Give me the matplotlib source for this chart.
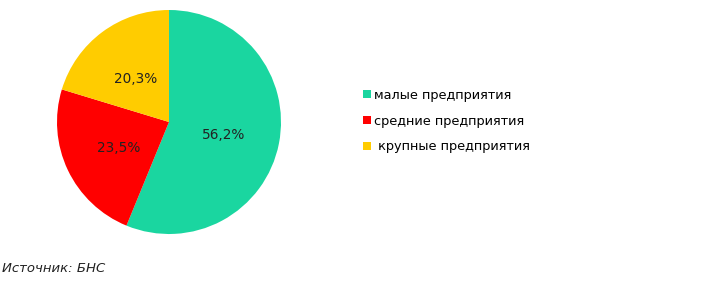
import numpy as np
import matplotlib.pyplot as plt
from matplotlib.patches import Patch

labels = ['малые предприятия', 'средние предприятия', ' крупные предприятия']
shares = [56.2, 23.5, 20.3]
colors = ['#1ad6a0', '#ff0000', '#ffcc00']
pct_labels = ['56,2%', '23,5%', '20,3%']

W, H = 709, 286
fig = plt.figure(figsize=(W / 100, H / 100), dpi=100)

# pie axes placed around centre (169, 122) px, radius 112 px
cx, cy, r = 169, 122, 112
ax = fig.add_axes([(cx - r) / W, (H - cy - r) / H, 2 * r / W, 2 * r / H])
wedges, _ = ax.pie(shares, colors=colors, startangle=90, counterclock=False,
                   wedgeprops=dict(linewidth=0))
ax.set_aspect('equal')
ax.set_xlim(-1, 1)
ax.set_ylim(-1, 1)

# percentage labels at half radius
angle = 90.0
for s, t in zip(shares, pct_labels):
    mid = np.deg2rad(angle - s * 3.6 / 2)
    angle -= s * 3.6
    ax.text(0.5 * np.cos(mid), 0.5 * np.sin(mid) - 0.02, t, ha='center', va='center',
            fontsize=9.8, color='#222222')

handles = [Patch(facecolor=c, edgecolor='none') for c in colors]
fig.legend(handles, labels, loc='center left', bbox_to_anchor=(357 / W, 1 - 121 / H),
           frameon=False, fontsize=9.3, handlelength=0.6, handleheight=0.6,
           handletextpad=0.25, labelspacing=1.0, borderpad=0)

fig.text(2 / W, 1 - 268 / H, 'Источник: БНС', style='italic', fontsize=9.5,
         ha='left', va='center', color='#222222')

fig.savefig('out.png', dpi=100)
